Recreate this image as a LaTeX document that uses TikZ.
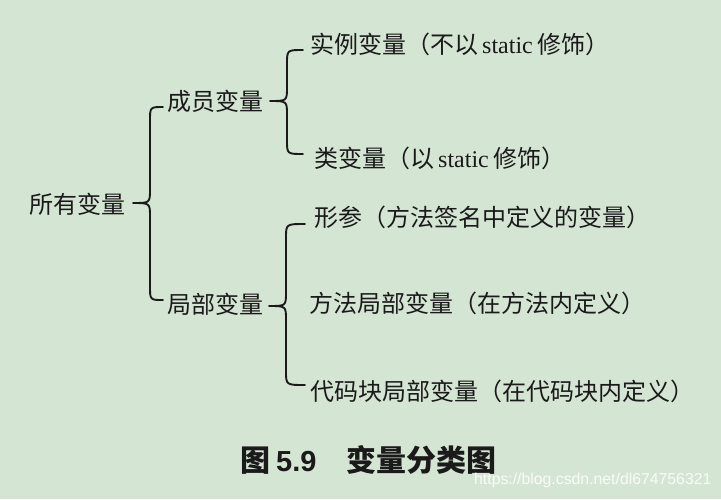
\documentclass[tikz,border=0pt]{standalone}
\usepackage{fontspec}
\setmainfont{Liberation Serif}
\setsansfont{Liberation Sans}
\newfontfamily\cjk{Noto Sans CJK SC}
\usetikzlibrary{calc}
\definecolor{bgc}{HTML}{D5E5D3}
\definecolor{ink}{HTML}{1A1A1A}
\newcommand\curlybrace[3]{%
  \draw[bracestyle] let \p1=(#1), \p2=(#2), \p3=(#3) in
   (\p2) .. controls ({\x1+17pt},\y2) .. ({\x1+17pt},{\y2-14pt})
   -- ({\x1+17pt},{\y1+14pt}) .. controls ({\x1+17pt},\y1) .. (\p1)
   .. controls ({\x1+17pt},\y1) .. ({\x1+17pt},{\y1-14pt})
   -- ({\x1+17pt},{\y3+14pt}) .. controls ({\x1+17pt},\y3) .. (\p3);}
\begin{document}
\begin{tikzpicture}[x=1pt,y=-1pt,
  lbl/.style={anchor=west,inner sep=0pt,text=ink,font=\fontsize{24}{27}\selectfont},
  bracestyle/.style={draw=ink,line width=1.9pt,line cap=round,line join=round}]
\fill[bgc] (0,0) rectangle (721,499);
\useasboundingbox (0,0) rectangle (721,499);
% nodes
\node[lbl] (root)  at (29,204) {\cjk 所有变量};
\node[lbl] (mem)   at (167,101) {\cjk 成员变量};
\node[lbl] (loc)   at (167,304) {\cjk 局部变量};
\node[lbl] (inst)  at (310,44) {{\cjk 实例变量（不以}\hspace{4pt}static\hspace{5pt}{\cjk 修饰）}};
\node[lbl] (cls)   at (314,158) {{\cjk 类变量（以}\hspace{4pt}static\hspace{5pt}{\cjk 修饰）}};
\node[lbl] (param) at (314,217) {\cjk 形参（方法签名中定义的变量）};
\node[lbl] (meth)  at (309,303) {\cjk 方法局部变量（在方法内定义）};
\node[lbl] (block) at (310,391) {\cjk 代码块局部变量（在代码块内定义）};
\node[anchor=west,inner sep=0pt,text=ink,font=\fontsize{30}{32}\selectfont\bfseries] (cap) at (240,460)
  {{\cjk 图}\hspace{6pt}{\sffamily\fontsize{29}{30}\selectfont 5.9}\hspace{30pt}{\cjk 变量分类图}};
\node[anchor=west,inner sep=0pt,text=white,opacity=0.85,font=\sffamily\fontsize{15.8}{17}\selectfont] (wm) at (474,480)
  {https://blog.csdn.net/dl674756321};
% brace coordinates
\coordinate (t1) at (133,203);
\coordinate (a1) at (163,107);
\coordinate (z1) at (163,300);
\coordinate (t2) at (270,101);
\coordinate (a2) at (303,50);
\coordinate (z2) at (303,154);
\coordinate (t3) at (269,306);
\coordinate (a3) at (305,224);
\coordinate (z3) at (305,385);
\curlybrace{t1}{a1}{z1}
\curlybrace{t2}{a2}{z2}
\curlybrace{t3}{a3}{z3}
\end{tikzpicture}
\end{document}
